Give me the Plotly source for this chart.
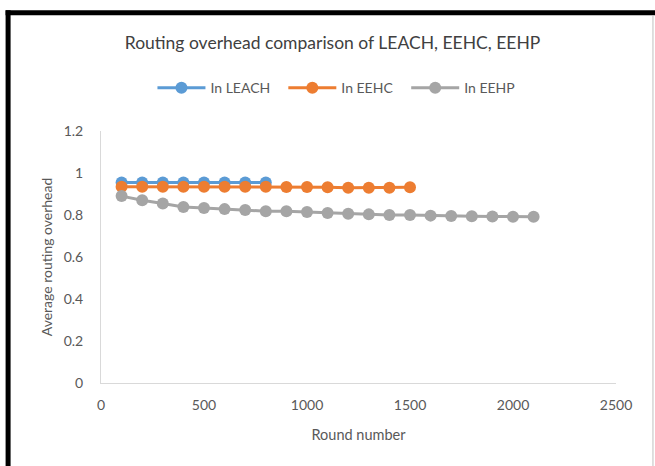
import plotly.graph_objects as go

rounds_leach = [100, 200, 300, 400, 500, 600, 700, 800]
leach = [0.955, 0.955, 0.955, 0.955, 0.955, 0.955, 0.955, 0.955]

rounds_eehc = [100, 200, 300, 400, 500, 600, 700, 800, 900, 1000, 1100, 1200, 1300, 1400, 1500]
eehc = [0.935, 0.935, 0.935, 0.935, 0.935, 0.935, 0.935, 0.935, 0.933, 0.933, 0.932, 0.93, 0.93, 0.93, 0.932]

rounds_eehp = [100, 200, 300, 400, 500, 600, 700, 800, 900, 1000, 1100,
               1200, 1300, 1400, 1500, 1600, 1700, 1800, 1900, 2000, 2100]
eehp = [0.89, 0.87, 0.855, 0.838, 0.833, 0.828, 0.824, 0.818, 0.818, 0.814, 0.81,
        0.806, 0.803, 0.8, 0.8, 0.797, 0.795, 0.794, 0.793, 0.792, 0.792]

x_ticks = [0, 500, 1000, 1500, 2000, 2500]
y_ticks = [0, 0.2, 0.4, 0.6, 0.8, 1, 1.2]
y_ticktext = ["0", "0.2", "0.4", "0.6", "0.8", "1", "1.2"]

series = [
    ("In LEACH", rounds_leach, leach, "#5B9BD5", "legend", 152),
    ("In EEHC", rounds_eehc, eehc, "#ED7D31", "legend2", 283),
    ("In EEHP", rounds_eehp, eehp, "#A5A5A5", "legend3", 406),
]

FONT = "Lato"
TXT = "#595959"

W, H = 655, 466
L, R, T, B = 100.5, 39, 131, 82.5
pw, ph = W - L - R, H - T - B


def px(x):
    return (x - L) / pw


def py(y):
    return (H - B - y) / ph


fig = go.Figure()
legends = {}
for name, xs, ys, col, lg, lx in series:
    fig.add_trace(go.Scatter(
        x=xs, y=ys, name=name, mode="lines+markers",
        line=dict(color=col, width=3),
        marker=dict(color=col, size=12),
        legend=lg,
    ))
    legends[lg] = dict(orientation="h", x=px(lx), xanchor="left", xref="paper",
                       y=py(88), yanchor="middle", yref="paper",
                       font=dict(family=FONT, size=14, color=TXT), itemwidth=48,
                       bgcolor="rgba(0,0,0,0)", borderwidth=0)

shapes = [
    dict(type="line", xref="paper", yref="paper", x0=px(7.5), x1=px(7.5), y0=py(H + 2), y1=py(10),
         line=dict(color="black", width=5)),
    dict(type="line", xref="paper", yref="paper", x0=px(5), x1=px(W + 2), y0=py(12.5), y1=py(12.5),
         line=dict(color="black", width=5)),
    dict(type="line", xref="paper", yref="paper", x0=px(653), x1=px(653), y0=py(H + 2), y1=py(15),
         line=dict(color="#BFBFBF", width=1)),
]

fig.update_layout(
    width=W, height=H,
    margin=dict(l=L, r=R, t=T, b=B, autoexpand=False),
    paper_bgcolor="white", plot_bgcolor="white",
    font=dict(family=FONT, size=14, color=TXT),
    title=dict(text="Routing overhead comparison of LEACH, EEHC, EEHP",
               x=332.5 / W, xref="container", xanchor="center", y=1 - 43 / H, yanchor="middle",
               font=dict(family=FONT, size=17.5, color="#404040")),
    showlegend=True,
    shapes=shapes,
    xaxis=dict(range=[0, 2500], tickvals=x_ticks, automargin=False,
               showgrid=False, zeroline=False, showline=True, linecolor="#D9D9D9",
               linewidth=1, ticks="", tickfont=dict(family=FONT, size=14, color=TXT),
               ticklabelstandoff=9,
               title=dict(text="Round number", font=dict(family=FONT, size=14.5, color=TXT), standoff=18)),
    yaxis=dict(range=[0, 1.2], tickvals=y_ticks, ticktext=y_ticktext, automargin=False,
               showgrid=False, zeroline=False, showline=True, linecolor="#D9D9D9",
               linewidth=1, ticks="", tickfont=dict(family=FONT, size=14, color=TXT),
               ticklabelstandoff=14,
               title=dict(text="Average routing overhead", font=dict(family=FONT, size=14, color=TXT), standoff=7)),
    **legends,
)

fig.write_html("out.html", config={"displayModeBar": False},
               post_script="document.body.style.margin='0';document.body.style.overflow='hidden';")
